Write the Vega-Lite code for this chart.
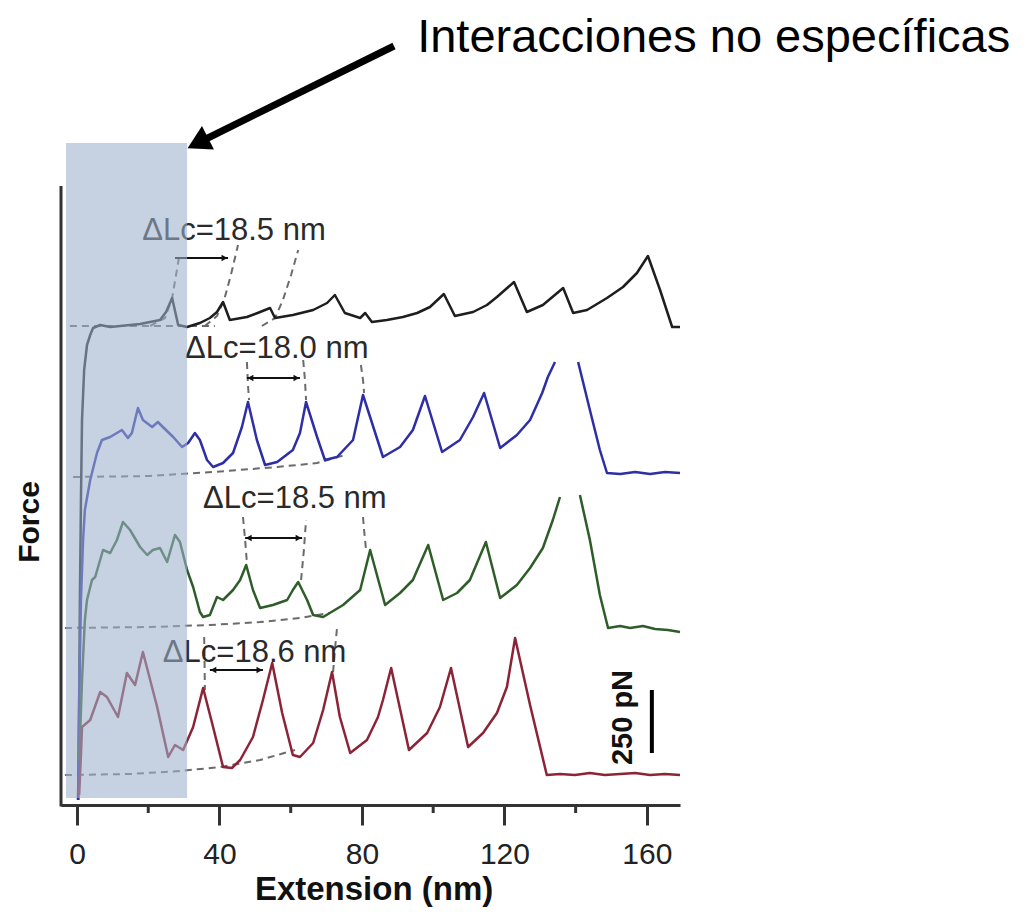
{
  "$schema": "https://vega.github.io/schema/vega-lite/v6.json",
  "width": 619,
  "height": 805,
  "autosize": {"type": "none"},
  "padding": {"left": 61, "top": 0, "right": 346, "bottom": 107},
  "background": "white",
  "config": {"view": {"stroke": null}, "font": "Liberation Sans"},
  "datasets": {
    "traces": [
      {"trace":"k","seg":"a","x":0.3,"f":20},{"trace":"k","seg":"a","x":0.6,"f":420},{"trace":"k","seg":"a","x":0.8,"f":820},{"trace":"k","seg":"a","x":1.1,"f":1220},{"trace":"k","seg":"a","x":1.4,"f":1540},{"trace":"k","seg":"a","x":2.0,"f":1740},{"trace":"k","seg":"a","x":2.8,"f":1840},{"trace":"k","seg":"a","x":3.7,"f":1880},{"trace":"k","seg":"a","x":4.5,"f":1908},{"trace":"k","seg":"a","x":6.5,"f":1920},{"trace":"k","seg":"a","x":9.3,"f":1912},{"trace":"k","seg":"a","x":12.1,"f":1916},{"trace":"k","seg":"a","x":14.9,"f":1920},{"trace":"k","seg":"a","x":17.7,"f":1924},{"trace":"k","seg":"a","x":20.5,"f":1932},{"trace":"k","seg":"a","x":23.3,"f":1940},{"trace":"k","seg":"a","x":25.0,"f":1972},{"trace":"k","seg":"a","x":26.7,"f":2028},{"trace":"k","seg":"a","x":28.4,"f":1920},{"trace":"k","seg":"a","x":30.9,"f":1912},{"trace":"k","seg":"a","x":34.5,"f":1928},{"trace":"k","seg":"a","x":37.3,"f":1948},{"trace":"k","seg":"a","x":39.3,"f":1972},{"trace":"k","seg":"a","x":41.0,"f":2012},{"trace":"k","seg":"a","x":42.9,"f":1940},{"trace":"k","seg":"a","x":47.7,"f":1952},{"trace":"k","seg":"a","x":51.4,"f":1972},{"trace":"k","seg":"a","x":54.2,"f":1988},{"trace":"k","seg":"a","x":55.6,"f":1948},{"trace":"k","seg":"a","x":60.6,"f":1960},{"trace":"k","seg":"a","x":66.3,"f":1980},{"trace":"k","seg":"a","x":70.2,"f":2008},{"trace":"k","seg":"a","x":72.4,"f":2040},{"trace":"k","seg":"a","x":75.2,"f":1968},{"trace":"k","seg":"a","x":79.5,"f":1948},{"trace":"k","seg":"a","x":80.9,"f":1968},{"trace":"k","seg":"a","x":82.8,"f":1932},{"trace":"k","seg":"a","x":87.0,"f":1940},{"trace":"k","seg":"a","x":91.5,"f":1952},{"trace":"k","seg":"a","x":95.5,"f":1968},{"trace":"k","seg":"a","x":99.1,"f":1992},{"trace":"k","seg":"a","x":103.0,"f":2044},{"trace":"k","seg":"a","x":106.1,"f":1956},{"trace":"k","seg":"a","x":111.2,"f":1972},{"trace":"k","seg":"a","x":115.1,"f":2000},{"trace":"k","seg":"a","x":117.9,"f":2032},{"trace":"k","seg":"a","x":122.7,"f":2092},{"trace":"k","seg":"a","x":126.3,"f":1972},{"trace":"k","seg":"a","x":130.8,"f":2000},{"trace":"k","seg":"a","x":136.5,"f":2068},{"trace":"k","seg":"a","x":139.3,"f":1968},{"trace":"k","seg":"a","x":143.2,"f":1980},{"trace":"k","seg":"a","x":148.8,"f":2028},{"trace":"k","seg":"a","x":153.3,"f":2072},{"trace":"k","seg":"a","x":157.2,"f":2128},{"trace":"k","seg":"a","x":160.3,"f":2196},{"trace":"k","seg":"a","x":163.7,"f":2060},{"trace":"k","seg":"a","x":167.1,"f":1912},{"trace":"k","seg":"a","x":169.3,"f":1912},

      {"trace":"b","seg":"a","x":0.3,"f":20},{"trace":"b","seg":"a","x":0.6,"f":420},{"trace":"b","seg":"a","x":1.1,"f":820},{"trace":"b","seg":"a","x":1.7,"f":1060},{"trace":"b","seg":"a","x":2.2,"f":1180},{"trace":"b","seg":"a","x":3.7,"f":1300},{"trace":"b","seg":"a","x":5.6,"f":1408},{"trace":"b","seg":"a","x":7.0,"f":1460},{"trace":"b","seg":"a","x":9.3,"f":1472},{"trace":"b","seg":"a","x":11.2,"f":1488},{"trace":"b","seg":"a","x":12.6,"f":1500},{"trace":"b","seg":"a","x":14.3,"f":1468},{"trace":"b","seg":"a","x":15.4,"f":1488},{"trace":"b","seg":"a","x":17.1,"f":1588},{"trace":"b","seg":"a","x":18.5,"f":1540},{"trace":"b","seg":"a","x":21.1,"f":1512},{"trace":"b","seg":"a","x":22.7,"f":1532},{"trace":"b","seg":"a","x":24.1,"f":1512},{"trace":"b","seg":"a","x":27.0,"f":1472},{"trace":"b","seg":"a","x":29.5,"f":1432},{"trace":"b","seg":"a","x":31.2,"f":1448},{"trace":"b","seg":"a","x":33.1,"f":1488},{"trace":"b","seg":"a","x":34.5,"f":1460},{"trace":"b","seg":"a","x":36.5,"f":1380},{"trace":"b","seg":"a","x":38.2,"f":1352},{"trace":"b","seg":"a","x":41.0,"f":1368},{"trace":"b","seg":"a","x":43.8,"f":1408},{"trace":"b","seg":"a","x":46.3,"f":1512},{"trace":"b","seg":"a","x":48.0,"f":1612},{"trace":"b","seg":"a","x":50.5,"f":1460},{"trace":"b","seg":"a","x":52.8,"f":1360},{"trace":"b","seg":"a","x":56.2,"f":1372},{"trace":"b","seg":"a","x":60.6,"f":1420},{"trace":"b","seg":"a","x":62.6,"f":1488},{"trace":"b","seg":"a","x":64.3,"f":1612},{"trace":"b","seg":"a","x":67.4,"f":1472},{"trace":"b","seg":"a","x":69.6,"f":1380},{"trace":"b","seg":"a","x":73.0,"f":1392},{"trace":"b","seg":"a","x":77.5,"f":1460},{"trace":"b","seg":"a","x":80.3,"f":1640},{"trace":"b","seg":"a","x":85.9,"f":1392},{"trace":"b","seg":"a","x":90.7,"f":1432},{"trace":"b","seg":"a","x":94.3,"f":1500},{"trace":"b","seg":"a","x":97.7,"f":1636},{"trace":"b","seg":"a","x":102.5,"f":1412},{"trace":"b","seg":"a","x":107.5,"f":1460},{"trace":"b","seg":"a","x":111.2,"f":1552},{"trace":"b","seg":"a","x":114.3,"f":1648},{"trace":"b","seg":"a","x":118.8,"f":1428},{"trace":"b","seg":"a","x":123.5,"f":1480},{"trace":"b","seg":"a","x":127.2,"f":1540},{"trace":"b","seg":"a","x":130.6,"f":1648},{"trace":"b","seg":"a","x":132.2,"f":1712},{"trace":"b","seg":"a","x":134.2,"f":1772},
      {"trace":"b","seg":"c","x":140.7,"f":1772},{"trace":"b","seg":"c","x":144.0,"f":1580},{"trace":"b","seg":"c","x":146.8,"f":1420},{"trace":"b","seg":"c","x":148.8,"f":1328},{"trace":"b","seg":"c","x":152.5,"f":1324},{"trace":"b","seg":"c","x":156.7,"f":1332},{"trace":"b","seg":"c","x":160.9,"f":1324},{"trace":"b","seg":"c","x":165.1,"f":1332},{"trace":"b","seg":"c","x":169.3,"f":1328},

      {"trace":"g","seg":"a","x":0.6,"f":180},{"trace":"g","seg":"a","x":1.4,"f":500},{"trace":"g","seg":"a","x":2.2,"f":740},{"trace":"g","seg":"a","x":2.8,"f":820},{"trace":"g","seg":"a","x":4.2,"f":900},{"trace":"g","seg":"a","x":5.1,"f":912},{"trace":"g","seg":"a","x":7.3,"f":1020},{"trace":"g","seg":"a","x":9.3,"f":1008},{"trace":"g","seg":"a","x":11.2,"f":1060},{"trace":"g","seg":"a","x":12.9,"f":1132},{"trace":"g","seg":"a","x":14.9,"f":1100},{"trace":"g","seg":"a","x":17.7,"f":1032},{"trace":"g","seg":"a","x":19.7,"f":1000},{"trace":"g","seg":"a","x":21.3,"f":1020},{"trace":"g","seg":"a","x":23.3,"f":1028},{"trace":"g","seg":"a","x":25.3,"f":972},{"trace":"g","seg":"a","x":27.5,"f":1080},{"trace":"g","seg":"a","x":28.9,"f":1052},{"trace":"g","seg":"a","x":30.9,"f":940},{"trace":"g","seg":"a","x":32.6,"f":872},{"trace":"g","seg":"a","x":34.5,"f":772},{"trace":"g","seg":"a","x":35.4,"f":752},{"trace":"g","seg":"a","x":37.3,"f":760},{"trace":"g","seg":"a","x":39.3,"f":832},{"trace":"g","seg":"a","x":41.0,"f":820},{"trace":"g","seg":"a","x":43.8,"f":860},{"trace":"g","seg":"a","x":45.8,"f":900},{"trace":"g","seg":"a","x":47.5,"f":960},{"trace":"g","seg":"a","x":49.4,"f":860},{"trace":"g","seg":"a","x":51.4,"f":788},{"trace":"g","seg":"a","x":55.0,"f":800},{"trace":"g","seg":"a","x":59.0,"f":820},{"trace":"g","seg":"a","x":60.6,"f":860},{"trace":"g","seg":"a","x":62.1,"f":892},{"trace":"g","seg":"a","x":64.6,"f":820},{"trace":"g","seg":"a","x":66.3,"f":760},{"trace":"g","seg":"a","x":69.1,"f":752},{"trace":"g","seg":"a","x":74.7,"f":800},{"trace":"g","seg":"a","x":79.5,"f":860},{"trace":"g","seg":"a","x":82.3,"f":1020},{"trace":"g","seg":"a","x":86.5,"f":800},{"trace":"g","seg":"a","x":90.7,"f":848},{"trace":"g","seg":"a","x":94.3,"f":900},{"trace":"g","seg":"a","x":98.6,"f":1040},{"trace":"g","seg":"a","x":102.8,"f":820},{"trace":"g","seg":"a","x":106.7,"f":848},{"trace":"g","seg":"a","x":110.3,"f":900},{"trace":"g","seg":"a","x":114.8,"f":1052},{"trace":"g","seg":"a","x":118.8,"f":828},{"trace":"g","seg":"a","x":123.5,"f":880},{"trace":"g","seg":"a","x":127.2,"f":948},{"trace":"g","seg":"a","x":130.8,"f":1028},{"trace":"g","seg":"a","x":133.6,"f":1140},{"trace":"g","seg":"a","x":135.6,"f":1232},
      {"trace":"g","seg":"c","x":141.2,"f":1240},{"trace":"g","seg":"c","x":144.0,"f":1060},{"trace":"g","seg":"c","x":146.8,"f":840},{"trace":"g","seg":"c","x":149.1,"f":708},{"trace":"g","seg":"c","x":152.5,"f":716},{"trace":"g","seg":"c","x":155.3,"f":708},{"trace":"g","seg":"c","x":158.9,"f":716},{"trace":"g","seg":"c","x":162.3,"f":704},{"trace":"g","seg":"c","x":165.9,"f":700},{"trace":"g","seg":"c","x":169.3,"f":692},

      {"trace":"r","seg":"a","x":0.6,"f":40},{"trace":"r","seg":"a","x":1.1,"f":200},{"trace":"r","seg":"a","x":1.4,"f":312},{"trace":"r","seg":"a","x":3.7,"f":340},{"trace":"r","seg":"a","x":6.5,"f":452},{"trace":"r","seg":"a","x":8.4,"f":432},{"trace":"r","seg":"a","x":11.5,"f":352},{"trace":"r","seg":"a","x":14.0,"f":528},{"trace":"r","seg":"a","x":16.3,"f":480},{"trace":"r","seg":"a","x":18.5,"f":612},{"trace":"r","seg":"a","x":22.5,"f":392},{"trace":"r","seg":"a","x":25.6,"f":192},{"trace":"r","seg":"a","x":27.5,"f":240},{"trace":"r","seg":"a","x":29.8,"f":220},{"trace":"r","seg":"a","x":32.6,"f":312},{"trace":"r","seg":"a","x":35.4,"f":468},{"trace":"r","seg":"a","x":38.2,"f":312},{"trace":"r","seg":"a","x":41.0,"f":152},{"trace":"r","seg":"a","x":43.5,"f":148},{"trace":"r","seg":"a","x":45.8,"f":180},{"trace":"r","seg":"a","x":49.4,"f":272},{"trace":"r","seg":"a","x":52.2,"f":420},{"trace":"r","seg":"a","x":54.8,"f":568},{"trace":"r","seg":"a","x":57.6,"f":368},{"trace":"r","seg":"a","x":60.6,"f":200},{"trace":"r","seg":"a","x":62.6,"f":192},{"trace":"r","seg":"a","x":66.3,"f":248},{"trace":"r","seg":"a","x":69.1,"f":380},{"trace":"r","seg":"a","x":71.6,"f":532},{"trace":"r","seg":"a","x":73.8,"f":352},{"trace":"r","seg":"a","x":76.7,"f":208},{"trace":"r","seg":"a","x":81.4,"f":260},{"trace":"r","seg":"a","x":84.5,"f":352},{"trace":"r","seg":"a","x":85.9,"f":420},{"trace":"r","seg":"a","x":88.2,"f":548},{"trace":"r","seg":"a","x":93.2,"f":220},{"trace":"r","seg":"a","x":98.3,"f":288},{"trace":"r","seg":"a","x":101.9,"f":392},{"trace":"r","seg":"a","x":105.0,"f":548},{"trace":"r","seg":"a","x":109.8,"f":232},{"trace":"r","seg":"a","x":114.0,"f":288},{"trace":"r","seg":"a","x":117.9,"f":368},{"trace":"r","seg":"a","x":120.7,"f":472},{"trace":"r","seg":"a","x":123.0,"f":668},{"trace":"r","seg":"a","x":127.2,"f":400},{"trace":"r","seg":"a","x":131.9,"f":120},{"trace":"r","seg":"a","x":135.6,"f":124},{"trace":"r","seg":"a","x":139.8,"f":120},{"trace":"r","seg":"a","x":144.0,"f":128},{"trace":"r","seg":"a","x":148.2,"f":120},{"trace":"r","seg":"a","x":152.5,"f":124},{"trace":"r","seg":"a","x":156.7,"f":128},{"trace":"r","seg":"a","x":160.9,"f":120},{"trace":"r","seg":"a","x":165.1,"f":124},{"trace":"r","seg":"a","x":169.3,"f":120}
    ],
    "fits": [
      {"c":"k0","x":-2.0,"f":1916},{"c":"k0","x":38.7,"f":1916},
      {"c":"k1","x":20.5,"f":1916},{"c":"k1","x":24.7,"f":1948},{"c":"k1","x":26.7,"f":2028},{"c":"k1","x":27.8,"f":2120},{"c":"k1","x":28.6,"f":2188},
      {"c":"k2","x":35.9,"f":1916},{"c":"k2","x":39.3,"f":1956},{"c":"k2","x":41.3,"f":2020},{"c":"k2","x":43.2,"f":2120},{"c":"k2","x":45.2,"f":2240},
      {"c":"k3","x":51.9,"f":1916},{"c":"k3","x":55.6,"f":1948},{"c":"k3","x":57.8,"f":2020},{"c":"k3","x":60.1,"f":2120},{"c":"k3","x":62.1,"f":2220},
      {"c":"b0","x":-1.1,"f":1312},{"c":"b0","x":20.5,"f":1316},{"c":"b0","x":38.2,"f":1332},{"c":"b0","x":56.2,"f":1352},{"c":"b0","x":67.4,"f":1368},{"c":"b0","x":75.2,"f":1400},
      {"c":"b1","x":47.7,"f":1772},{"c":"b1","x":48.0,"f":1680},{"c":"b1","x":48.3,"f":1620},
      {"c":"b2","x":63.5,"f":1780},{"c":"b2","x":64.0,"f":1700},{"c":"b2","x":64.3,"f":1620},
      {"c":"b3","x":79.7,"f":1760},{"c":"b3","x":80.3,"f":1700},{"c":"b3","x":80.6,"f":1648},
      {"c":"g0","x":-3.4,"f":708},{"c":"g0","x":20.5,"f":712},{"c":"g0","x":37.3,"f":720},{"c":"g0","x":51.4,"f":732},{"c":"g0","x":62.6,"f":748},{"c":"g0","x":71.0,"f":768},
      {"c":"g1","x":46.6,"f":1152},{"c":"g1","x":47.2,"f":1060},{"c":"g1","x":47.7,"f":968},
      {"c":"g2","x":62.9,"f":900},{"c":"g2","x":63.7,"f":1020},{"c":"g2","x":64.3,"f":1140},
      {"c":"g3","x":80.3,"f":1152},{"c":"g3","x":80.6,"f":1100},{"c":"g3","x":81.1,"f":1028},
      {"c":"r0","x":-3.4,"f":120},{"c":"r0","x":14.9,"f":124},{"c":"r0","x":28.9,"f":136},{"c":"r0","x":40.2,"f":152},{"c":"r0","x":51.4,"f":180},{"c":"r0","x":61.2,"f":220},
      {"c":"r1","x":35.7,"f":672},{"c":"r1","x":35.8,"f":580},{"c":"r1","x":35.9,"f":460},
      {"c":"r2","x":71.9,"f":532},{"c":"r2","x":72.4,"f":620},{"c":"r2","x":73.0,"f":708}
    ],
    "arrows": [
      {"x":27.5,"x2":42.4,"f":2188},
      {"x":47.7,"x2":62.6,"f":1708},
      {"x":47.2,"x2":63.2,"f":1068},
      {"x":37.3,"x2":52.2,"f":540}
    ],
    "heads": [
      {"x":41.4,"f":2188,"dir":"r"},
      {"x":48.7,"f":1708,"dir":"l"},{"x":61.6,"f":1708,"dir":"r"},
      {"x":48.2,"f":1068,"dir":"l"},{"x":62.2,"f":1068,"dir":"r"},
      {"x":38.3,"f":540,"dir":"l"},{"x":51.2,"f":540,"dir":"r"}
    ],
    "labels": [
      {"x":18.3,"f":2260,"label":"ΔLc=18.5 nm"},
      {"x":30.3,"f":1788,"label":"ΔLc=18.0 nm"},
      {"x":35.4,"f":1188,"label":"ΔLc=18.5 nm"},
      {"x":24.1,"f":572,"label":"ΔLc=18.6 nm"}
    ],
    "minor": [{"x":20,"f":0,"f2":-32},{"x":60,"f":0,"f2":-32},{"x":100,"f":0,"f2":-32},{"x":140,"f":0,"f2":-32}]
  },
  "encoding": {
    "x": {"field":"x","type":"quantitative","scale":{"domain":[-4.5,169.3],"nice":false,"zero":false},
      "axis":{"values":[0,40,80,120,160],"title":null,"grid":false,"domainColor":"#333333","domainWidth":3,"tickColor":"#333333","tickWidth":3,"tickSize":20,"labelFontSize":30,"labelColor":"#222222","labelPadding":14,"labelFont":"Liberation Sans","labelFlush":false,"labelOverlap":false}},
    "y": {"field":"f","type":"quantitative","scale":{"domain":[0,3220],"nice":false,"zero":false},"axis":null}
  },
  "layer": [
    {"data":{"name":"fits"},"mark":{"type":"line","strokeDash":[7,5],"color":"#6b6b6b","strokeWidth":2},"encoding":{"detail":{"field":"c"}}},
    {"data":{"name":"traces"},"mark":{"type":"line","strokeWidth":2.5,"strokeJoin":"round"},
      "encoding":{"color":{"field":"trace","type":"nominal","scale":{"domain":["k","b","g","r"],"range":["#1e1e1e","#2e2ea6","#2f5d2a","#8c2437"]},"legend":null},"detail":{"field":"seg"}}},
    {"data":{"name":"minor"},"mark":{"type":"rule","color":"#333333","strokeWidth":3},"encoding":{"y2":{"field":"f2"}}},
    {"data":{"values":[{"x":-4.5,"f":2476,"f2":-6}]},"mark":{"type":"rule","color":"#333333","strokeWidth":3},"encoding":{"y2":{"field":"f2"}}},
    {"data":{"name":"arrows"},"mark":{"type":"rule","color":"#111111","strokeWidth":2},"encoding":{"x2":{"field":"x2"}}},
    {"data":{"name":"heads"},"mark":{"type":"point","filled":true,"color":"#111111","opacity":1,"size":45},
      "encoding":{"shape":{"field":"dir","type":"nominal","scale":{"domain":["l","r"],"range":["triangle-left","triangle-right"]},"legend":null}}},
    {"data":{"name":"labels"},"mark":{"type":"text","align":"left","baseline":"alphabetic","fontSize":31,"color":"#2a2a2a","font":"Liberation Sans"},"encoding":{"text":{"field":"label"}}},
    {"data":{"values":[{"x":161.4,"f":460,"f2":208}]},"mark":{"type":"rule","color":"#000000","strokeWidth":4},"encoding":{"y2":{"field":"f2"}}},
    {"data":{"values":[{"x":153.3,"f":350,"label":"250 pN"}]},"mark":{"type":"text","angle":270,"align":"center","baseline":"middle","fontSize":29,"fontWeight":"bold","color":"#111111"},"encoding":{"text":{"field":"label"}}},
    {"data":{"values":[{"x":-13.2,"f":1132,"label":"Force"}]},"mark":{"type":"text","angle":270,"align":"center","baseline":"middle","fontSize":30,"fontWeight":"bold","color":"#111111"},"encoding":{"text":{"field":"label"}}},
    {"data":{"values":[{"x":83.4,"f":-378,"label":"Extension (nm)"}]},"mark":{"type":"text","align":"center","baseline":"alphabetic","fontSize":33,"fontWeight":"bold","color":"#111111"},"encoding":{"text":{"field":"label"}}},
    {"data":{"values":[{"x":-3.1,"x2":30.9,"f":28,"f2":2648}]},"mark":{"type":"rect","color":"#9db2cc","opacity":0.58},"encoding":{"x2":{"field":"x2"},"y2":{"field":"f2"}}},
    {"data":{"values":[{"x":89.0,"f":3036,"x2":33.9,"f2":2648}]},"mark":{"type":"rule","color":"#000000","strokeWidth":7},"encoding":{"x2":{"field":"x2"},"y2":{"field":"f2"}}},
    {"data":{"values":[{"x":33.9,"f":2648}]},"mark":{"type":"point","shape":"triangle-up","angle":243,"filled":true,"color":"#000000","opacity":1,"size":700}},
    {"data":{"values":[{"x":95.5,"f":3012,"label":"Interacciones no específicas"}]},"mark":{"type":"text","align":"left","baseline":"alphabetic","fontSize":47,"color":"#000000"},"encoding":{"text":{"field":"label"}}}
  ]
}
